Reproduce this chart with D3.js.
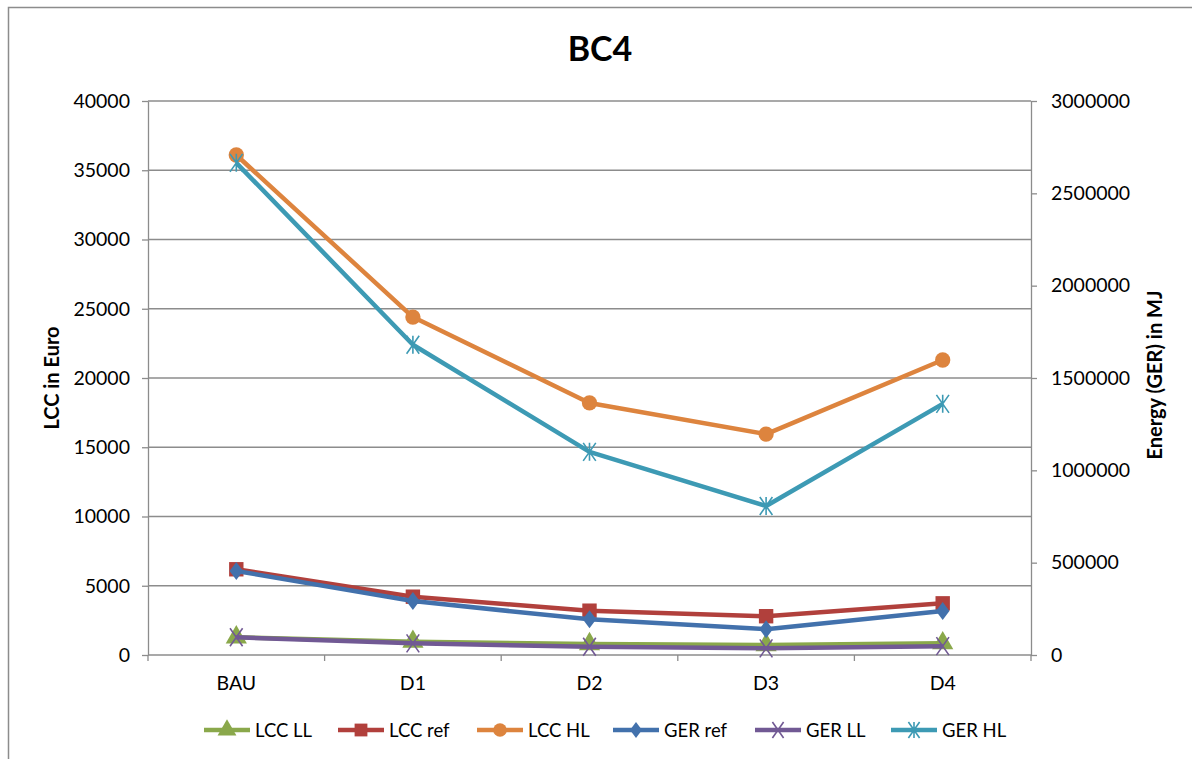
<!DOCTYPE html>
<html lang="en">
<head>
    <meta charset="UTF-8">
    <title>BC4</title>
    <style>
        body { margin: 0; background: #fff; }
        text { font-family: Lato, "Open Sans", "Liberation Sans", sans-serif; }
    </style>
</head>
<body>
    <div id="chart"></div>
    <script src="https://d3js.org/d3.v7.min.js"></script>
    <script>
        // data
        const categories = ["BAU", "D1", "D2", "D3", "D4"];
        const lccLL = [1280, 960, 790, 720, 850];
        const lccRef = [6190, 4210, 3200, 2800, 3730];
        const lccHL = [36100, 24400, 18200, 15950, 21300];
        const gerRef = [455000, 292000, 193000, 140000, 238000];
        const gerLL = [96000, 63000, 45000, 36000, 48000];
        const gerHL = [2665000, 1680000, 1100000, 807000, 1360000];
        const leftTicks = [0, 5000, 10000, 15000, 20000, 25000, 30000, 35000, 40000];
        const rightTicks = [0, 500000, 1000000, 1500000, 2000000, 2500000, 3000000];

        const series = [
            { name: "LCC LL", values: lccLL, axis: "left", color: "#8aa84b", marker: "triangle" },
            { name: "LCC ref", values: lccRef, axis: "left", color: "#b1403c", marker: "square" },
            { name: "LCC HL", values: lccHL, axis: "left", color: "#dd843e", marker: "circle" },
            { name: "GER ref", values: gerRef, axis: "right", color: "#4271ac", marker: "diamond" },
            { name: "GER LL", values: gerLL, axis: "right", color: "#715994", marker: "x" },
            { name: "GER HL", values: gerHL, axis: "right", color: "#3d9ab4", marker: "star" }
        ];
        // drawing order: LCC HL and GER HL on top like the original
        const drawOrder = ["LCC LL", "GER LL", "LCC ref", "GER ref", "LCC HL", "GER HL"];

        const W = 1192, H = 759;
        const margin = { top: 101, right: 161, bottom: 104, left: 148 },
            width = W - margin.left - margin.right,
            height = H - margin.top - margin.bottom;
        const fs = "19.5px";

        const svg = d3.select("#chart").append("svg")
            .attr("width", W)
            .attr("height", H);

        // chart border (cropped at the right and bottom in the original)
        svg.append("rect")
            .attr("x", 8.5).attr("y", 7.5)
            .attr("width", 1300).attr("height", 900)
            .attr("fill", "none")
            .attr("stroke", "#8c8c8c")
            .attr("stroke-width", 1.5);

        svg.append("text")
            .attr("x", 600)
            .attr("y", 61)
            .attr("text-anchor", "middle")
            .attr("font-size", "34px")
            .attr("font-weight", "bold")
            .text("BC4");

        const g = svg.append("g")
            .attr("transform", `translate(${margin.left},${margin.top})`);

        const x = d3.scaleBand()
            .domain(categories)
            .range([0, width]);

        const yL = d3.scaleLinear().domain([0, 40000]).range([height, 0]);
        const yR = d3.scaleLinear().domain([0, 3000000]).range([height, 0]);

        // gridlines
        g.append("g")
            .selectAll("line")
            .data(leftTicks.slice(1))
            .enter().append("line")
            .attr("x1", 0).attr("x2", width)
            .attr("y1", d => yL(d)).attr("y2", d => yL(d))
            .attr("stroke", "#8c8c8c")
            .attr("stroke-width", 1.3);

        function styleAxis(sel) {
            sel.attr("font-family", null).attr("font-size", null);
            sel.selectAll("path, line").attr("stroke", "#8c8c8c").attr("stroke-width", 1.3);
            sel.selectAll("text").attr("font-size", fs).attr("fill", "#000");
        }

        g.append("g")
            .call(d3.axisLeft(yL).tickValues(leftTicks).tickSize(6).tickPadding(12).tickSizeOuter(0).tickFormat(d3.format("d")))
            .call(styleAxis);

        g.append("g")
            .attr("transform", `translate(${width},0)`)
            .call(d3.axisRight(yR).tickValues(rightTicks).tickSize(6).tickPadding(14).tickSizeOuter(0).tickFormat(d3.format("d")))
            .call(styleAxis);

        // category axis with ticks at band boundaries
        const xAxis = g.append("g").attr("transform", `translate(0,${height})`);
        xAxis.append("line")
            .attr("x1", 0).attr("x2", width)
            .attr("stroke", "#8c8c8c").attr("stroke-width", 1.3);
        const bounds = categories.map(c => x(c)).concat([width]);
        xAxis.selectAll(".tk")
            .data(bounds)
            .enter().append("line")
            .attr("x1", d => d).attr("x2", d => d)
            .attr("y1", 0).attr("y2", 6)
            .attr("stroke", "#8c8c8c").attr("stroke-width", 1.3);
        xAxis.selectAll(".lbl")
            .data(categories)
            .enter().append("text")
            .attr("x", d => x(d) + x.bandwidth() / 2)
            .attr("y", 35)
            .attr("text-anchor", "middle")
            .attr("font-size", fs)
            .text(d => d);

        // axis titles
        svg.append("text")
            .attr("transform", "translate(59,378) rotate(-90)")
            .attr("text-anchor", "middle")
            .attr("font-size", "20px")
            .attr("font-weight", "bold")
            .text("LCC in Euro");
        svg.append("text")
            .attr("transform", "translate(1162,375) rotate(-90)")
            .attr("text-anchor", "middle")
            .attr("font-size", "20px")
            .attr("font-weight", "bold")
            .text("Energy (GER) in MJ");

        function drawMarker(sel, type, color, s) {
            if (type === "circle") {
                sel.append("circle").attr("r", s * 0.85).attr("fill", color);
            } else if (type === "square") {
                sel.append("rect").attr("x", -s * 0.8).attr("y", -s * 0.8)
                    .attr("width", s * 1.6).attr("height", s * 1.6).attr("fill", color);
            } else if (type === "triangle") {
                sel.append("path").attr("d", d3.symbol(d3.symbolTriangle, s * s * 2.4)()).attr("fill", color);
            } else if (type === "diamond") {
                sel.append("path")
                    .attr("d", `M0,${-s}L${s * 0.75},0L0,${s}L${-s * 0.75},0Z`)
                    .attr("fill", color);
            } else if (type === "x") {
                sel.append("path")
                    .attr("d", `M${-s * 0.7},${-s}L${s * 0.7},${s}M${s * 0.7},${-s}L${-s * 0.7},${s}`)
                    .attr("stroke", color).attr("stroke-width", 1.6).attr("fill", "none");
            } else if (type === "star") {
                sel.append("path")
                    .attr("d", `M${-s * 0.7},${-s}L${s * 0.7},${s}M${s * 0.7},${-s}L${-s * 0.7},${s}M0,${-s}L0,${s}`)
                    .attr("stroke", color).attr("stroke-width", 1.6).attr("fill", "none");
            }
        }

        const cx = d => x(d) + x.bandwidth() / 2;

        drawOrder.forEach(name => {
            const s = series.find(d => d.name === name);
            const y = s.axis === "left" ? yL : yR;
            const pts = categories.map((c, i) => [cx(c), y(s.values[i])]);
            g.append("path")
                .attr("d", d3.line()(pts))
                .attr("fill", "none")
                .attr("stroke", s.color)
                .attr("stroke-width", 4.5)
                .attr("stroke-linejoin", "round");
            pts.forEach(p => {
                const m = g.append("g").attr("transform", `translate(${p[0]},${p[1]})`);
                drawMarker(m, s.marker, s.color, 9);
            });
        });

        // legend
        const legendX = [204, 338, 477, 613, 755, 891];
        const legend = svg.append("g").attr("transform", "translate(0,730)");
        series.forEach((s, i) => {
            const lg = legend.append("g").attr("transform", `translate(${legendX[i]},0)`);
            lg.append("line")
                .attr("x1", 0).attr("x2", 46)
                .attr("stroke", s.color).attr("stroke-width", 4.5);
            const m = lg.append("g").attr("transform", "translate(23,0)");
            drawMarker(m, s.marker, s.color, 8);
            lg.append("text")
                .attr("x", 51)
                .attr("y", 7)
                .attr("font-size", "18.5px")
                .text(s.name);
        });
    </script>
</body>
</html>
